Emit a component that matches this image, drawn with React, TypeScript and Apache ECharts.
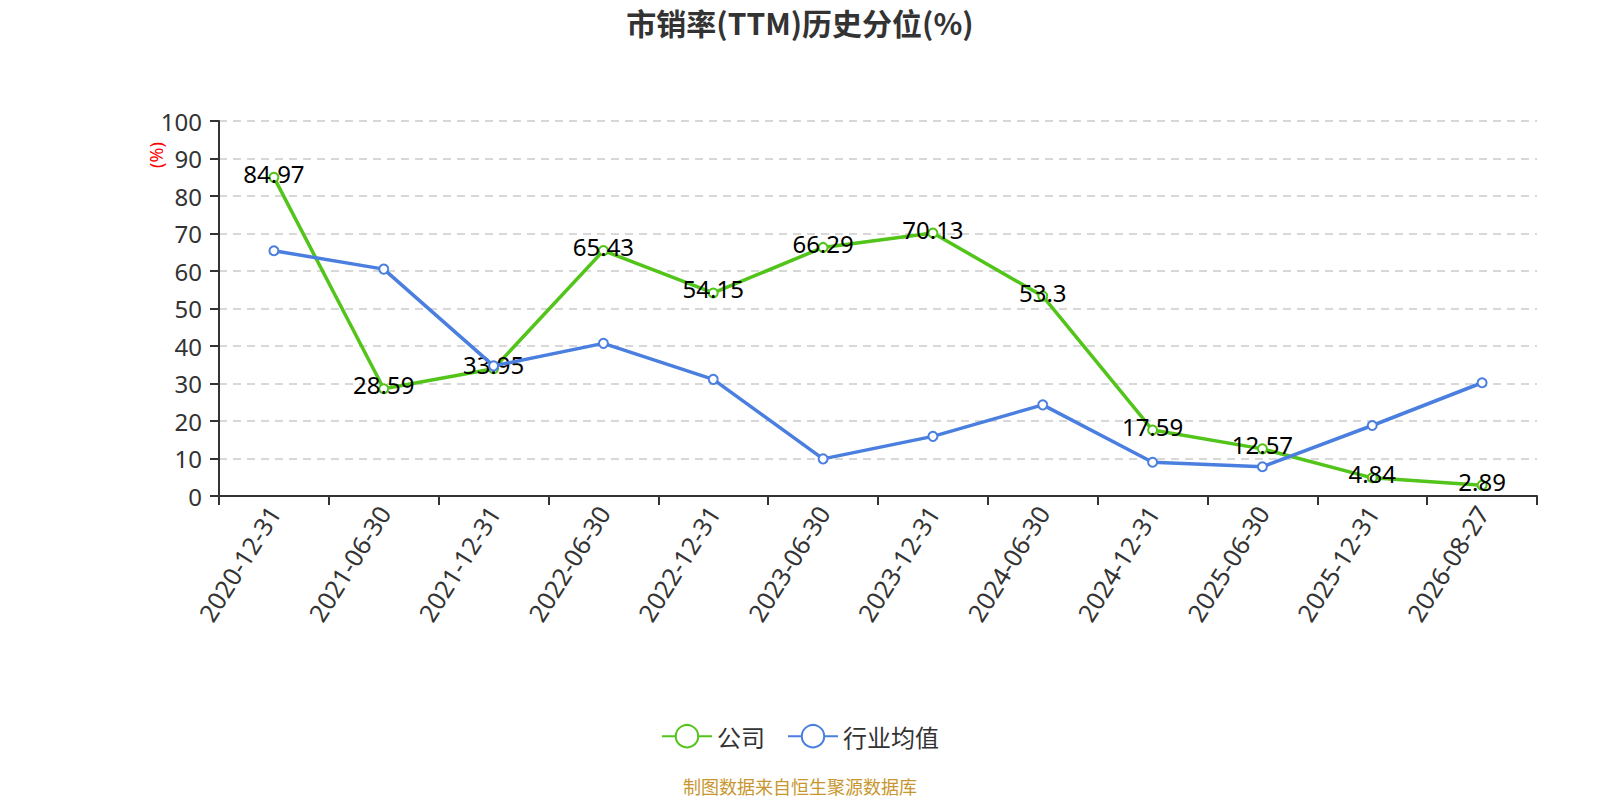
import React, { useEffect, useRef } from "react";
import * as echarts from "echarts";

const categories = [
  "2020-12-31", "2021-06-30", "2021-12-31", "2022-06-30", "2022-12-31", "2023-06-30",
  "2023-12-31", "2024-06-30", "2024-12-31", "2025-06-30", "2025-12-31", "2026-08-27",
];
const companyValues = [84.97, 28.59, 33.95, 65.43, 54.15, 66.29, 70.13, 53.3, 17.59, 12.57, 4.84, 2.89];
const industryValues = [65.4, 60.5, 34.7, 40.7, 31.1, 9.9, 15.9, 24.3, 9.0, 7.8, 18.8, 30.2];
const seriesNames = ["公司", "行业均值"];
const titleText = "市销率(TTM)历史分位(%)";
const unitText = "(%)";
const sourceText = "制图数据来自恒生聚源数据库";

const GREEN = "#52c41a";
const BLUE = "#4a7fe0";
const FONT = "'Noto Sans', 'Noto Sans CJK SC', sans-serif";

export default function App() {
  const ref = useRef<HTMLDivElement>(null);
  useEffect(() => {
    document.body.style.margin = "0";
    const chart = echarts.init(ref.current!, null, { renderer: "svg" });
    chart.setOption({
      animation: false,
      backgroundColor: "#ffffff",
      textStyle: { fontFamily: FONT },
      title: {
        text: titleText,
        left: "center",
        top: 2,
        textStyle: { fontSize: 30, fontWeight: "bold", color: "#333333", fontFamily: "'Noto Sans CJK SC', sans-serif" },
      },
      legend: {
        data: seriesNames,
        top: 719,
        left: "center",
        itemWidth: 50,
        itemHeight: 28,
        itemGap: 22,
        textStyle: { fontSize: 24, color: "#333333", fontFamily: "'Noto Sans CJK SC', sans-serif" },
      },
      grid: { left: 219, right: 63, top: 121, bottom: 304, containLabel: false },
      xAxis: {
        type: "category",
        data: categories,
        boundaryGap: true,
        axisLine: { show: true, lineStyle: { color: "#333333", width: 2 } },
        axisTick: { show: true, length: 9, alignWithLabel: false, lineStyle: { color: "#333333", width: 2 } },
        axisLabel: { rotate: 58, fontSize: 25, color: "#333333", margin: 12, interval: 0 },
        splitLine: { show: false },
      },
      yAxis: {
        type: "value",
        min: 0,
        max: 100,
        interval: 10,
        axisLine: { show: true, lineStyle: { color: "#333333", width: 2 } },
        axisTick: { show: true, length: 9, lineStyle: { color: "#333333", width: 2 } },
        axisLabel: { fontSize: 24, color: "#333333", margin: 17 },
        splitLine: { show: true, lineStyle: { color: "#cccccc", type: [8, 6], width: 1.5 } },
      },
      series: [
        {
          name: seriesNames[0],
          type: "line",
          data: companyValues,
          symbol: "emptyCircle",
          symbolSize: 9,
          lineStyle: { color: GREEN, width: 3.5 },
          itemStyle: { color: GREEN, borderWidth: 2 },
          label: { show: true, position: "inside", fontSize: 24, color: "#000000", offset: [0, -4] },
          z: 2,
        },
        {
          name: seriesNames[1],
          type: "line",
          data: industryValues,
          symbol: "emptyCircle",
          symbolSize: 9,
          lineStyle: { color: BLUE, width: 3.5 },
          itemStyle: { color: BLUE, borderWidth: 2 },
          z: 3,
        },
      ],
      graphic: [
        {
          type: "text",
          x: 156,
          y: 155,
          rotation: Math.PI / 2,
          style: {
            text: unitText,
            fill: "#ff0000",
            fontSize: 18,
            fontFamily: FONT,
            align: "center",
            verticalAlign: "middle",
          },
        },
        {
          type: "text",
          x: 800,
          y: 786,
          style: {
            text: sourceText,
            fill: "#c8962e",
            fontSize: 18,
            fontFamily: "'Noto Sans CJK SC', sans-serif",
            align: "center",
            verticalAlign: "middle",
          },
        },
      ],
    });
    return () => chart.dispose();
  }, []);
  return <div ref={ref} style={{ position: "absolute", left: 0, top: 0, width: 1600, height: 800 }} />;
}
